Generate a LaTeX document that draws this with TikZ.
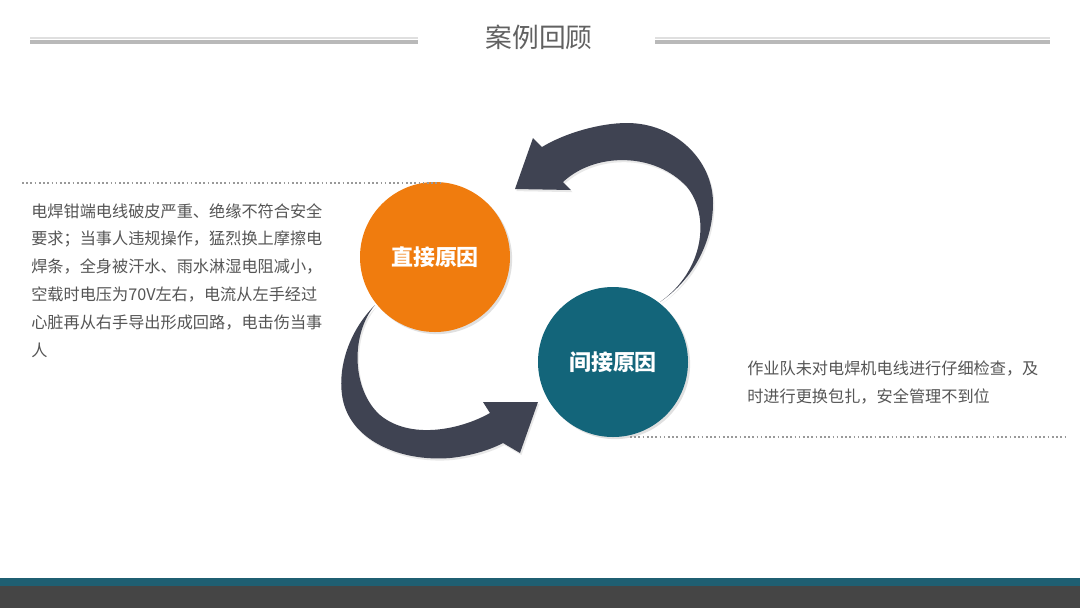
\documentclass[tikz,border=0pt]{standalone}
\usepackage{fontspec}
\setmainfont{Noto Sans CJK SC}
\usetikzlibrary{shadows}
\definecolor{causeorange}{HTML}{F07C0E}
\definecolor{causeteal}{HTML}{13657A}
\definecolor{arrowgray}{HTML}{3F4352}
\definecolor{textgray}{HTML}{555555}
\definecolor{barteal}{HTML}{1F5F72}
\definecolor{bargray}{HTML}{454545}
\tikzset{
  cause/.style={circle, minimum size=150*0.025cm, inner sep=0pt, text=white,
    font=\fontsize{15.6}{18}\selectfont\bfseries,
    drop shadow={shadow xshift=1.5pt, shadow yshift=-1.5pt, fill=black!20, opacity=0.6}},
  bendarrow/.style={fill=arrowgray,
    drop shadow={shadow xshift=1pt, shadow yshift=-1.5pt, fill=black!15, opacity=0.6}},
  story/.style={anchor=north west, inner sep=0pt, align=left, text=textgray,
    font=\fontsize{11.5}{19.8}\selectfont},
  dotline/.style={gray!80, line width=1.2pt, dash pattern=on 1.2pt off 1.8pt}
}
\begin{document}
\begin{tikzpicture}[x=0.025cm, y=-0.025cm]
  \useasboundingbox[fill=white] (0,0) rectangle (1080,608);

  % title
  \node[text=black!62, font=\fontsize{19}{22}\selectfont] (title) at (539,37) {案例回顾};
  \draw[gray!25, line width=1pt] (30,38) -- (418,38);
  \draw[gray!55, line width=3pt] (30,42) -- (418,42);
  \draw[gray!25, line width=1pt] (655,38) -- (1050,38);
  \draw[gray!55, line width=3pt] (655,42) -- (1050,42);

  % arrows
  \path[bendarrow] (660,302) .. controls (695,278) and (713,240) .. (713,203)
    .. controls (713,160) and (675,123) .. (627,123)
    .. controls (600,123) and (565,133) .. (542,147)
    -- (533,138) -- (515,189) -- (571,190) -- (563,182)
    .. controls (595,152) and (655,152) .. (687,187)
    .. controls (710,215) and (705,270) .. (660,302) -- cycle;
  \path[bendarrow] (375,305) .. controls (350,330) and (338,365) .. (342,395)
    .. controls (348,440) and (400,462) .. (450,458)
    .. controls (470,456) and (490,450) .. (503,443)
    -- (520,453) -- (538,402) -- (483,402) -- (490,413)
    .. controls (460,430) and (410,440) .. (380,415)
    .. controls (352,390) and (350,335) .. (375,305) -- cycle;

  % circles
  \node[cause, fill=causeorange] (direct) at (435,257) {直接原因};
  \node[cause, fill=causeteal] (indirect) at (613,362) {间接原因};

  % texts
  \draw[dotline] (22,183) -- (442,183);
  \node[story] (lefttext) at (31,203) {电焊钳端电线破皮严重、绝缘不符合安全\\要求；当事人违规操作，猛烈换上摩擦电\\焊条，全身被汗水、雨水淋湿电阻减小，\\空载时电压为70V左右，电流从左手经过\\心脏再从右手导出形成回路，电击伤当事\\人};
  \node[story] (righttext) at (747,361) {作业队未对电焊机电线进行仔细检查，及\\时进行更换包扎，安全管理不到位};
  \draw[dotline] (630,437) -- (1065,437);

  % bottom bar
  \fill[barteal] (0,578) rectangle (1080,586);
  \fill[bargray] (0,586) rectangle (1080,608);
\end{tikzpicture}
\end{document}
